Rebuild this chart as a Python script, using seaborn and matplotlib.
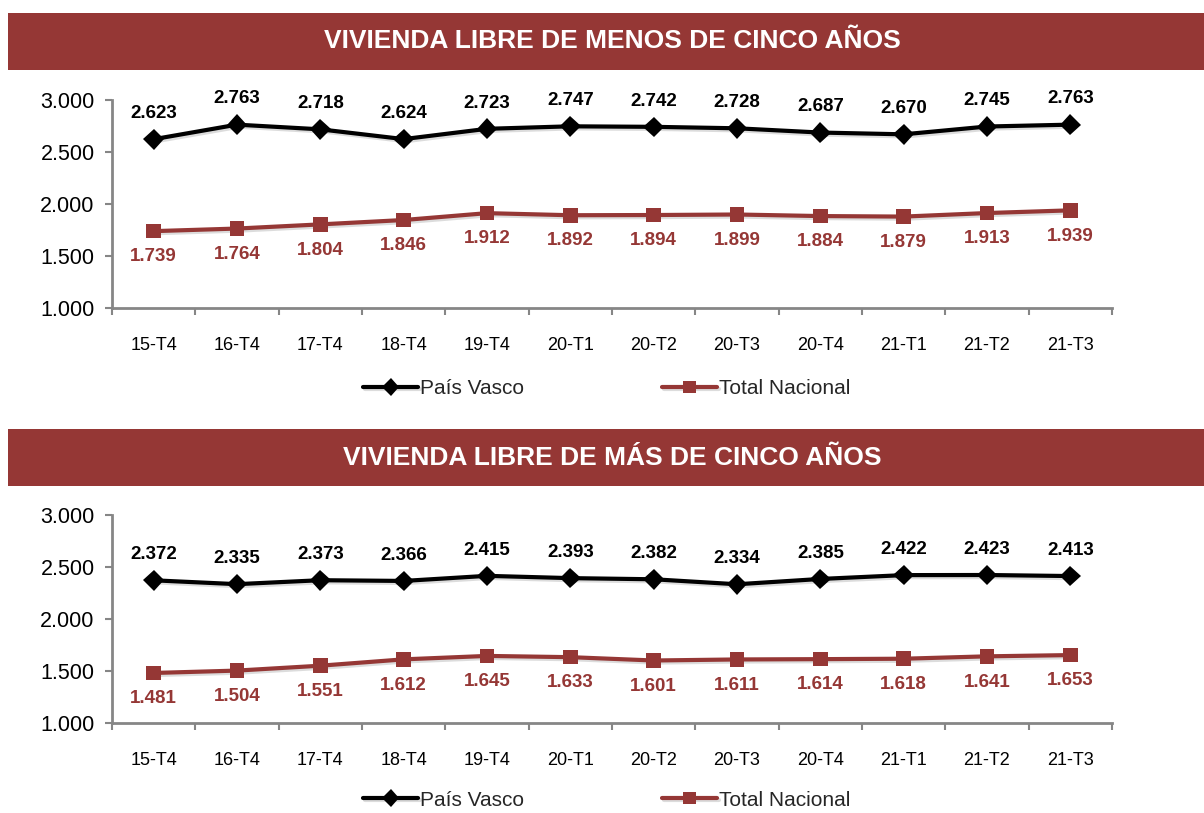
"""Precio de la vivienda libre: País Vasco frente al total nacional."""
import numpy as np
import pandas as pd
import seaborn as sns
import matplotlib.pyplot as plt
from matplotlib.patches import Rectangle
from matplotlib.ticker import FixedLocator, FuncFormatter
import matplotlib.patheffects as pe

periodos = ["15-T4", "16-T4", "17-T4", "18-T4", "19-T4", "20-T1",
            "20-T2", "20-T3", "20-T4", "21-T1", "21-T2", "21-T3"]

# vivienda libre de menos de cinco años
menos_pv = [2623, 2763, 2718, 2624, 2723, 2747, 2742, 2728, 2687, 2670, 2745, 2763]
menos_nac = [1739, 1764, 1804, 1846, 1912, 1892, 1894, 1899, 1884, 1879, 1913, 1939]

# vivienda libre de más de cinco años
mas_pv = [2372, 2335, 2373, 2366, 2415, 2393, 2382, 2334, 2385, 2422, 2423, 2413]
mas_nac = [1481, 1504, 1551, 1612, 1645, 1633, 1601, 1611, 1614, 1618, 1641, 1653]

titulos = ["VIVIENDA LIBRE DE MENOS DE CINCO AÑOS",
           "VIVIENDA LIBRE DE MÁS DE CINCO AÑOS"]
series = ["País Vasco", "Total Nacional"]

ROJO = "#953735"
GRIS = "#868686"
colores = {"País Vasco": "black", "Total Nacional": ROJO}
marcadores = {"País Vasco": "D", "Total Nacional": "s"}

sns.set_theme(style="white")
plt.rcParams["font.family"] = ["Liberation Sans", "DejaVu Sans"]

W, H = 1204, 813
fig = plt.figure(figsize=(W / 100, H / 100), dpi=100)


def px_axes(left, top, right, bottom):
    return fig.add_axes([left / W, 1 - bottom / H, (right - left) / W, (bottom - top) / H])


def miles(v, _pos=None):
    return f"{v:,.0f}".replace(",", ".")


def banner(top, bottom, texto):
    fig.patches.append(Rectangle((8 / W, 1 - bottom / H), (W - 8) / W, (bottom - top) / H,
                                 transform=fig.transFigure, facecolor=ROJO,
                                 edgecolor="none", zorder=0))
    fig.text(612 / W, 1 - (top + bottom) / 2 / H, texto, color="white",
             fontsize=19, fontweight="bold", ha="center", va="center",
             fontstretch="condensed")


def panel(top, pv, nac, titulo, banner_top, legend_y):
    banner(banner_top, banner_top + 57, titulo)
    ax = px_axes(112, top, 1112, top + 208)
    df = pd.DataFrame({
        "periodo": periodos * 2,
        "valor": pv + nac,
        "serie": [series[0]] * len(periodos) + [series[1]] * len(periodos),
    })
    sns.lineplot(data=df, x="periodo", y="valor", hue="serie", style="serie",
                 palette=colores, markers=marcadores, dashes=False, sort=False,
                 linewidth=3, markersize=10.5, markeredgewidth=0, ax=ax,
                 path_effects=[pe.SimpleLineShadow(offset=(1.5, -1.5), alpha=0.15),
                               pe.Normal()])
    ax.set_xlim(-0.5, len(periodos) - 0.5)
    ax.set_ylim(1000, 3000)
    ax.yaxis.set_major_locator(FixedLocator([1000, 1500, 2000, 2500, 3000]))
    ax.yaxis.set_major_formatter(FuncFormatter(miles))
    ax.set_xticks(range(len(periodos)))
    ax.set_xticklabels(periodos)
    ax.xaxis.set_minor_locator(FixedLocator(np.arange(-0.5, len(periodos), 1.0)))
    ax.tick_params(axis="x", which="major", length=0, pad=21, labelsize=13, colors="black")
    ax.tick_params(axis="x", which="minor", length=5, width=1.5, color=GRIS, direction="out", bottom=True)
    ax.tick_params(axis="y", length=5, width=1.5, color=GRIS, direction="out", left=True,
                   pad=7.5, labelsize=15.5, labelcolor="black")
    ax.set_xlabel("")
    ax.set_ylabel("")
    for s in ["top", "right"]:
        ax.spines[s].set_visible(False)
    for s in ["left", "bottom"]:
        ax.spines[s].set_color(GRIS)
        ax.spines[s].set_linewidth(2)
    for i, v in enumerate(pv):
        ax.annotate(miles(v), (i, v), xytext=(0, 18.5), textcoords="offset points",
                    ha="center", va="center", fontsize=13.5, fontweight="bold", color="black")
    for i, v in enumerate(nac):
        ax.annotate(miles(v), (i, v), xytext=(0, -18.5), textcoords="offset points",
                    ha="center", va="center", fontsize=13.5, fontweight="bold", color=ROJO)
    handles, labels = ax.get_legend_handles_labels()
    ax.get_legend().remove()
    for h in handles:
        h.set_markersize(9)
    fig.legend(handles, labels, loc="center left", ncol=2, frameon=False,
               bbox_to_anchor=(363 / W, 1 - legend_y / H), fontsize=15,
               handlelength=2.65, handletextpad=0.1, columnspacing=6.6,
               borderaxespad=0, borderpad=0)
    return ax


panel(100, menos_pv, menos_nac, titulos[0], 13, 389)
panel(515, mas_pv, mas_nac, titulos[1], 429, 800)

fig.savefig("out.png", dpi=100)
